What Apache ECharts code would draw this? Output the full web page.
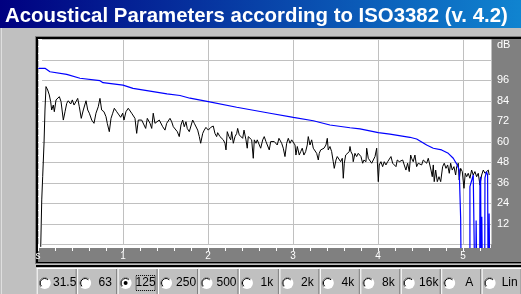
<!DOCTYPE html>
<html><head><meta charset="utf-8">
<script src="https://cdn.jsdelivr.net/npm/echarts@6/dist/echarts.min.js"></script>
<style>html,body{margin:0;padding:0;background:#c0c0c0;}#c{width:521px;height:294px;}</style>
</head><body><div id="c"></div>
<script>
const TITLE = 'Acoustical Parameters according to ISO3382 (v. 4.2)';
const BANDS = ['31.5','63','125','250','500','1k','2k','4k','8k','16k','A','Lin'];
const SELECTED_BAND = '125';
const X_TICK_VALUES = [0,0.2,0.4,0.6,0.8,1,1.2,1.4,1.6,1.8,2,2.2,2.4,2.6,2.8,3,3.2,3.4,3.6,3.8,4,4.2,4.4,4.6,4.8,5,5.2];
const X_LABEL_VALUES = [0,1,2,3,4,5];
const X_LABEL_TEXT = ['s','1','2','3','4','5'];
const Y_LABEL_VALUES = [12,24,36,48,60,72,84,96,120];
const Y_LABEL_TEXT = ['12','24','36','48','60','72','84','96','dB'];

// energy-time curve (black): time [s], level [dB]
const ETC_T = [0.032,0.044,0.055,0.071,0.082,0.094,0.114,0.133,0.149,0.161,0.180,0.192,0.212,0.227,0.251,0.271,0.298,0.318,0.338,0.356,0.385,0.404,0.424,0.447,0.467,0.486,0.509,0.533,0.565,0.585,0.604,0.632,0.659,0.682,0.709,0.729,0.749,0.776,0.800,0.815,0.839,0.859,0.879,0.898,0.926,0.953,0.973,0.996,1.012,1.035,1.062,1.082,1.102,1.121,1.141,1.161,1.180,1.200,1.220,1.239,1.267,1.286,1.318,1.338,1.356,1.376,1.396,1.427,1.447,1.467,1.494,1.514,1.533,1.553,1.573,1.592,1.612,1.639,1.662,
1.682,1.702,1.721,1.741,1.756,1.780,1.796,1.820,1.839,1.859,1.879,1.898,1.914,1.938,1.956,1.976,2.004,2.032,2.062,2.082,2.102,2.114,2.141,2.161,2.180,2.200,2.212,2.227,2.247,2.267,2.279,2.298,2.318,2.338,2.349,2.368,2.388,2.408,2.424,2.447,2.462,2.474,2.494,2.514,2.533,2.545,2.565,2.580,2.604,2.620,2.644,2.662,2.682,2.702,2.721,2.738,2.761,2.780,2.800,2.815,2.835,2.855,2.867,2.886,2.906,2.926,2.945,2.965,2.985,3.004,3.024,3.035,3.051,3.074,3.091,3.109,3.129,3.149,3.168,3.180,3.200,3.220,3.239,3.259,3.279,3.298,3.309,3.326,3.349,3.365,3.388,3.404,3.415,3.435,3.455,3.474,3.486,3.506,3.521,3.541,3.561,3.580,3.592,3.604,3.620,3.639,3.662,3.671,
3.682,3.702,3.709,3.729,3.749,3.768,3.788,3.800,3.820,3.835,3.859,3.867,3.886,3.906,3.926,3.945,3.965,3.985,4.004,4.015,4.035,4.055,4.074,4.094,4.114,4.133,4.153,4.173,4.192,4.212,4.227,4.251,4.271,4.291,4.309,4.329,4.349,4.368,4.385,4.396,4.415,4.435,4.455,4.474,4.494,4.514,4.533,4.553,4.573,4.592,4.612,4.624,4.639,4.651,4.662,4.679,4.698,4.718,4.738,4.761,4.780,4.800,4.820,4.839,4.855,4.874,4.894,4.914,4.926,4.945,4.956,4.973,4.992,5.012,5.027,5.044,5.062,5.082,5.102,5.121,5.141,5.161,5.180,5.200,5.220,5.239,5.259,5.279,5.298,5.309];
const ETC_DB = [-1.5,26,39.6,59.4,78.7,92.4,90.4,87.5,83.6,78.7,81.6,77.7,84.6,85.5,86.5,83.6,72.8,77.7,82.6,84.1,82.2,84.6,81.6,83.6,85.5,80.6,73.8,78.7,84.1,78.7,76.8,72.8,70.9,76.8,80.6,85.5,78.7,77.7,74.8,70.9,66.0,73.8,76.8,79.7,77.7,75.8,74.4,76.8,72.8,77.7,79.7,78.7,76.8,77.7,73.8,65.0,72.8,73.8,72.8,71.8,67.9,73.8,70.9,67.9,76.8,70.9,69.9,72.8,72.8,68.9,66.9,70.9,69.9,73.8,71.8,68.9,67.9,66.0,63.1,
69.9,72.8,68.9,71.8,67.9,66.0,66.9,72.8,70.9,71.8,66.9,63.1,59.2,65.0,66.9,68.5,66.9,68.5,69.3,65.0,63.1,65.4,63.1,64.1,61.2,59.2,55.3,66.0,63.1,61.2,66.0,59.2,63.1,65.0,67.9,64.1,65.0,62.1,66.9,61.2,56.3,63.1,64.1,61.2,50.4,61.2,59.2,61.2,58.2,56.3,61.2,63.1,60.2,59.2,55.3,60.2,61.2,60.2,61.2,58.2,62.1,61.2,59.2,56.3,51.4,59.2,62.1,59.2,61.2,61.2,58.2,52.3,57.3,52.3,54.3,56.3,52.3,54.3,58.2,63.1,58.2,61.2,56.3,55.3,53.3,49.4,53.3,55.3,54.3,56.3,58.2,62.1,55.3,57.3,54.3,48.4,44.5,49.4,51.4,52.3,48.4,50.4,38.7,47.5,52.3,53.3,54.3,57.3,
54.3,52.3,48.4,53.3,51.4,53.3,54.3,51.4,47.5,49.4,48.4,56.3,50.4,51.4,47.5,49.4,51.4,56.3,36.7,46.5,48.4,45.5,48.4,46.5,48.4,49.4,51.4,47.5,48.4,45.5,49.4,48.4,47.5,49.4,46.5,43.5,47.5,42.6,52.3,50.4,48.4,52.3,45.5,47.5,48.4,46.5,49.4,48.4,47.5,50.4,51.4,43.5,39.6,46.5,36.7,43.5,36.7,39.6,36.7,45.5,47.5,44.5,46.5,41.6,47.5,43.5,45.5,40.6,45.5,47.5,37.7,44.5,42.6,32.8,41.6,39.6,41.6,38.7,43.5,40.6,42.6,39.6,41.6,34.7,40.6,43.5,41.6,42.6,43.5,40.6];

// backward-integrated decay (blue): time [s], level [dB]; null = gap
const SCH_T = [0.004,0.082,0.141,0.338,0.494,0.729,0.765,1.0,1.118,1.318,1.518,1.671,1.788,2.004,2.338,2.729,3.004,3.239,3.435,3.671,3.788,4.004,4.141,4.376,4.455,4.573,4.651,4.749,4.827,4.886,4.933,4.956,4.973,4.976,
5.0,5.082,5.082,5.121,5.133,5.14,5.153,5.155,5.159,5.17,5.198,5.200,5.208,5.212,5.215,5.220,5.222,5.226,5.24,5.257,5.259,5.276,5.290,5.294,5.30,5.306,5.308,5.312];
const SCH_DB = [103.1,103.1,101.1,99.6,97.3,95.9,94.7,93.3,91.4,89.8,88.1,87.2,85.6,83.6,80.3,76.8,74.4,72.4,69.9,68.3,67.6,65.4,64.6,62.7,61.7,58.2,56.3,55.3,53.3,50.4,46.5,43.5,15.2,-2.2,
null,-2.2,33.8,40.6,-2.2,null,-2.2,14,-2.2,null,-2.2,36.7,39.6,-2.2,null,-2.2,16.2,-2.2,null,-2.2,38.9,42.5,40.6,-2.2,null,-2.2,18.1,-2.2];

const zip = (a, b) => a.map((v, i) => [v, b[i]]);

const chart = echarts.init(document.getElementById('c'), null, {renderer: 'canvas'});
const FONT = '"Liberation Sans", Arial, sans-serif';

const graphics = [];
// title bar
graphics.push({type:'rect', z:-10, shape:{x:0,y:0,width:521,height:28},
  style:{fill:new echarts.graphic.LinearGradient(0,0,1,0,[{offset:0,color:'#000080'},{offset:1,color:'#1084d0'}])}});
graphics.push({type:'text', z:10, x:5, y:16, style:{text:TITLE, fill:'#ffffff', font:'bold 20.4px ' + FONT, verticalAlign:'middle'}});
// left window edge highlight
graphics.push({type:'rect', z:-10, shape:{x:1,y:28,width:1,height:266}, style:{fill:'#dfdfdf'}});
// plot frame
graphics.push({type:'rect', z:-10, shape:{x:35,y:36,width:486,height:228}, style:{fill:'#808080'}});
graphics.push({type:'rect', z:-10, shape:{x:36,y:37,width:485,height:226}, style:{fill:'#000000'}});
graphics.push({type:'rect', z:-10, shape:{x:38,y:39,width:483,height:223}, style:{fill:'#808080'}});
graphics.push({type:'rect', z:-9, shape:{x:38,y:39,width:453,height:209}, style:{fill:'#ffffff'}});
// band selector
const BOX_W = 40.45, BOX_X0 = 36.7, BOX_Y = 267, CY = 283;
graphics.push({type:'rect', z:-10, shape:{x:36,y:265,width:485,height:2}, style:{fill:'#000000'}});
BANDS.forEach((b, i) => {
  const x = BOX_X0 + i * BOX_W;
  graphics.push({type:'line', z:1, shape:{x1:x+0.5,y1:BOX_Y+1,x2:x+0.5,y2:294}, style:{stroke:'#ffffff',lineWidth:1}});
  graphics.push({type:'line', z:1, shape:{x1:x+BOX_W-1,y1:BOX_Y+1,x2:x+BOX_W-1,y2:294}, style:{stroke:'#808080',lineWidth:1}});
  graphics.push({type:'line', z:1, shape:{x1:x,y1:BOX_Y+1.5,x2:x+BOX_W,y2:BOX_Y+1.5}, style:{stroke:'#ffffff',lineWidth:1}});
  const cx = x + 8;
  graphics.push({type:'circle', z:2, shape:{cx:cx,cy:CY,r:6}, style:{fill:'#ffffff'}});
  graphics.push({type:'arc', z:3, shape:{cx:cx,cy:CY,r:5.5,startAngle:Math.PI*0.75,endAngle:Math.PI*1.75,clockwise:true}, style:{stroke:'#808080',lineWidth:1,fill:null}});
  graphics.push({type:'arc', z:3, shape:{cx:cx,cy:CY,r:4.5,startAngle:Math.PI*0.75,endAngle:Math.PI*1.75,clockwise:true}, style:{stroke:'#000000',lineWidth:1,fill:null}});
  if (b === SELECTED_BAND) {
    graphics.push({type:'circle', z:4, shape:{cx:cx,cy:CY,r:2}, style:{fill:'#000000'}});
  }
  graphics.push({type:'text', z:4, x:cx+20, y:CY, style:{text:b, fill:'#000000', font:'12px ' + FONT, align:'center', verticalAlign:'middle'}});
  if (b === SELECTED_BAND) {
    graphics.push({type:'rect', z:4, shape:{x:cx+10.5,y:CY-7.5,width:19,height:15}, style:{fill:null,stroke:'#000000',lineWidth:1,lineDash:[1,1]}});
  }
});

chart.setOption({
  backgroundColor: '#c0c0c0',
  animation: false,
  graphic: graphics,
  grid: {left: 38, right: 30, top: 39.5, bottom: 49.7, show: false},
  xAxis: [{
    type: 'value', min: 0, max: 5.33, interval: 1, position: 'bottom',
    axisLine: {show: false}, axisTick: {show: false}, axisLabel: {show: false},
    splitLine: {show: true, lineStyle: {color: '#c0c0c0', width: 1}}
  }, {
    type: 'value', min: 0, max: 5.33, position: 'bottom', offset: 3.7,
    axisLine: {show: false},
    axisTick: {show: true, customValues: X_TICK_VALUES, length: 3, lineStyle: {color: '#ffffff'}},
    axisLabel: {show: true, customValues: X_LABEL_VALUES, margin: 3, color: '#ffffff', fontSize: 10, fontFamily: FONT,
      formatter: v => X_LABEL_TEXT[X_LABEL_VALUES.indexOf(Math.round(v))]},
    splitLine: {show: false}
  }],
  yAxis: [{
    type: 'value', min: 0, max: 120, interval: 12, position: 'right',
    axisLine: {show: false},
    axisTick: {show: true, length: 4, lineStyle: {color: '#ffffff'}},
    minorTick: {show: true, splitNumber: 3, length: 2, lineStyle: {color: '#ffffff'}},
    axisLabel: {show: true, customValues: Y_LABEL_VALUES, margin: 6, color: '#ffffff', fontSize: 11, fontFamily: FONT,
      verticalAlignMaxLabel: 'top',
      formatter: v => Y_LABEL_TEXT[Y_LABEL_VALUES.indexOf(Math.round(v))]},
    splitLine: {show: true, lineStyle: {color: '#c0c0c0', width: 1}}
  }],
  series: [{
    type: 'line', data: zip(ETC_T, ETC_DB), showSymbol: false, clip: false, connectNulls: false,
    lineStyle: {color: '#000000', width: 1}, z: 3
  }, {
    type: 'line', data: zip(SCH_T, SCH_DB), showSymbol: false, clip: false, connectNulls: false,
    lineStyle: {color: '#0000ff', width: 1.2}, z: 4
  }]
});
</script></body></html>
